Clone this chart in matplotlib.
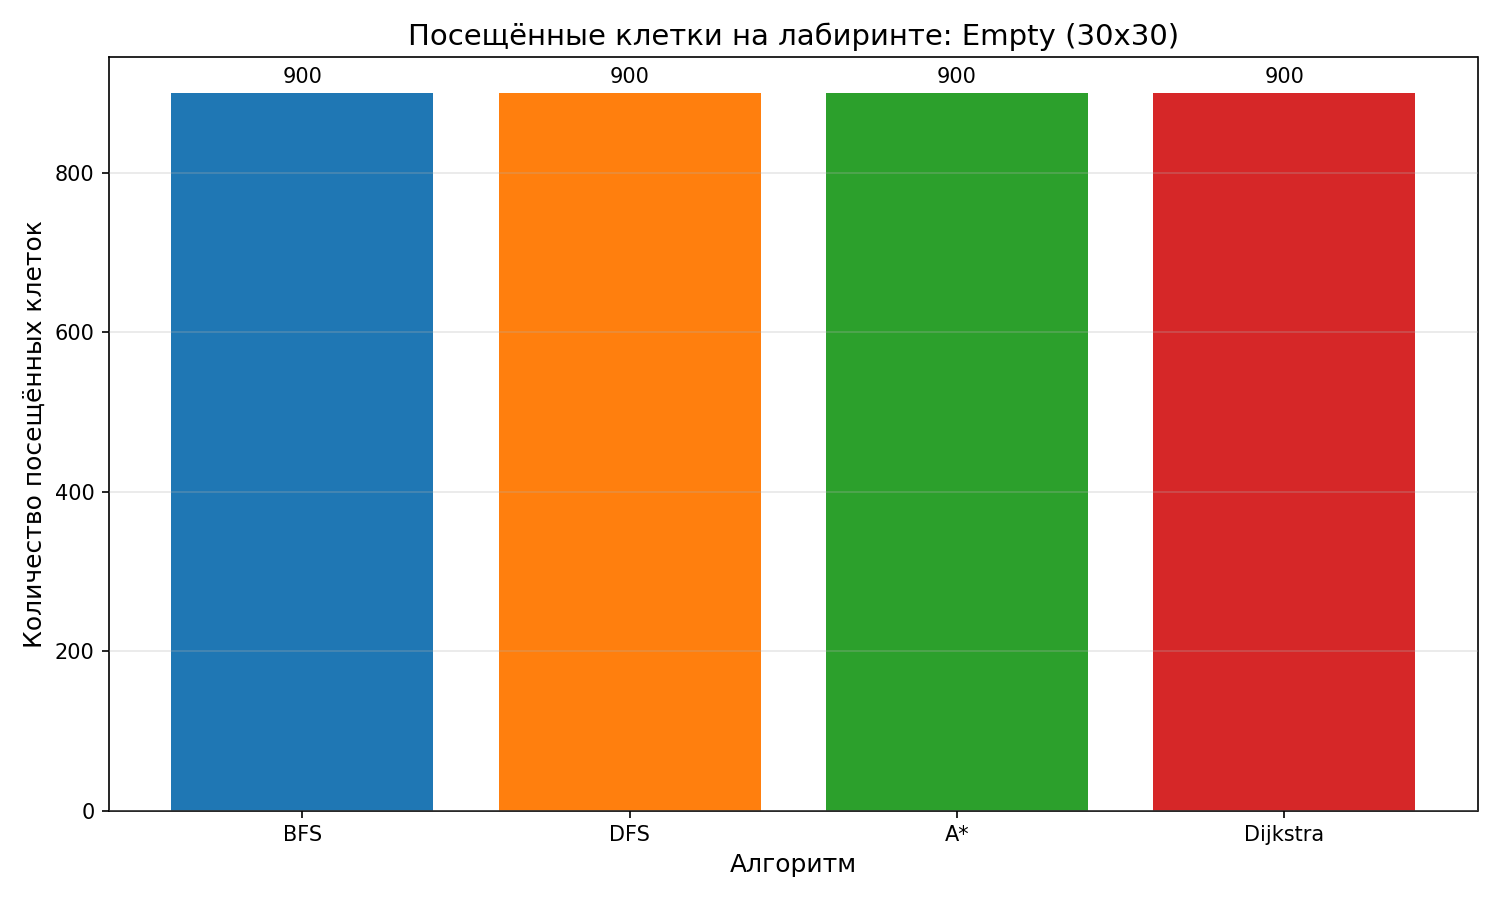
import matplotlib
matplotlib.use("Agg")
import matplotlib.pyplot as plt

algorithms = ["BFS", "DFS", "A*", "Dijkstra"]
visited = [900, 900, 900, 900]
colors = ["#1f77b4", "#ff7f0e", "#2ca02c", "#d62728"]

fig, ax = plt.subplots(figsize=(10, 6), dpi=150)
bars = ax.bar(algorithms, visited, color=colors)
for b, v in zip(bars, visited):
    ax.annotate(f"{v}", (b.get_x() + b.get_width() / 2, b.get_height()),
                xytext=(0, 3), textcoords="offset points", ha="center", va="bottom", fontsize=10)
ax.set_title("Посещённые клетки на лабиринте: Empty (30x30)", fontsize=14)
ax.set_xlabel("Алгоритм", fontsize=12)
ax.set_ylabel("Количество посещённых клеток", fontsize=12)
ax.grid(axis="y", alpha=0.3)
ax.set_axisbelow(False)
fig.tight_layout()
fig.savefig("out.png")
